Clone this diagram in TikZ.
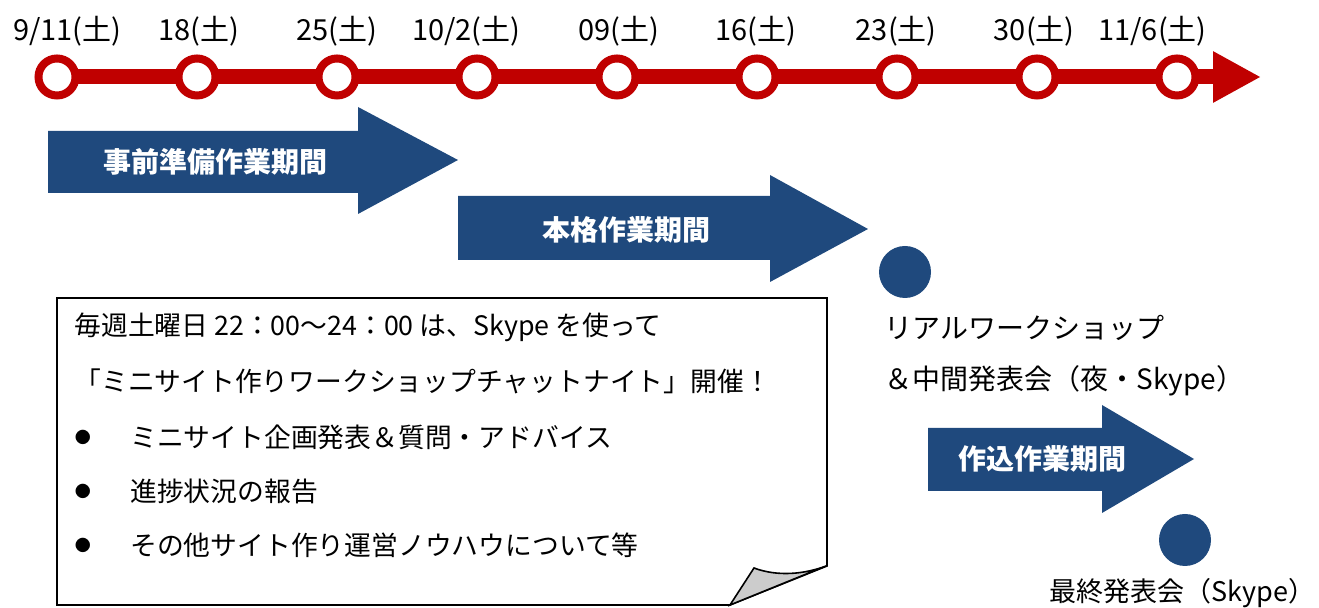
\documentclass[tikz,border=0pt]{standalone}
\usepackage{fontspec}
\setmainfont{Noto Sans CJK JP}
\usetikzlibrary{positioning,arrows.meta,calc}
\definecolor{tlred}{HTML}{C00000}
\definecolor{phaseblue}{HTML}{1F497D}

\begin{document}
\begin{tikzpicture}[
    x=0.5pt, y=-0.5pt,
    every node/.style={inner sep=0pt, font=\fontsize{13.4}{16}\selectfont},
    dot/.style={circle, draw=tlred, line width=4pt, fill=white, minimum size=18.5pt},
    datelbl/.style={anchor=east, font=\fontsize{14.5}{16}\selectfont},
    tline/.style={draw=tlred, line width=7.5pt, -{Triangle[length=24pt,width=24pt]}},
    phase/.style={fill=phaseblue},
    phasetxt/.style={text=white, font=\fontsize{14}{16}\selectfont\bfseries},
    milestone/.style={circle, fill=phaseblue, minimum size=26pt},
    sidetxt/.style={anchor=west, font=\fontsize{14}{17}\selectfont},
    notetxt/.style={anchor=west},
    bullet/.style={font=\fontsize{8}{10}\selectfont},
    note/.style={draw=black, line width=0.8pt, fill=white}
]
\useasboundingbox (0,0) rectangle (1319,608);

% timeline
\foreach \i in {0,...,8}
    \coordinate (d\i) at (57+140*\i,77);
\draw[tline] (d0) -- ($(d8)+(84,0)$);
\foreach \d/\r [count=\i from 0] in {{9/11}/65, 18/43, 25/41, {10/2}/44, 09/43, 16/40, 23/40, 30/38, {11/6}/30} {
    \node[dot] (date\i) at (d\i) {};
    \node[datelbl] (lbl\i) at ($(d\i)+(\r,-46)$) {\d(土)};
}

% phases
\fill[phase] (48,131) -- (358,131) -- (358,107) -- (458,160) -- (358,214) -- (358,193) -- (48,193) -- cycle;
\node[phasetxt] (prep) at (216,162) {事前準備作業期間};
\fill[phase] (458,196) -- (770,196) -- (770,175) -- (868,229) -- (770,282) -- (770,260) -- (458,260) -- cycle;
\node[phasetxt] (work) at (626,230) {本格作業期間};
\fill[phase] (928,428) -- (1102,428) -- (1102,405) -- (1194,459) -- (1102,513) -- (1102,491) -- (928,491) -- cycle;
\node[phasetxt] (finish) at (1042,459) {作込作業期間};

% milestones
\node[milestone] (rws) at (905,272) {};
\node[sidetxt] (rws1) at (884,328) {リアルワークショップ};
\node[sidetxt] (rws2) at (884,381) {＆中間発表会（夜・Skype）};
\node[milestone] (final) at (1185,540) {};
\node[sidetxt, font=\fontsize{13.5}{16}\selectfont] (finaltxt) at (1049,593) {最終発表会（Skype）};

% note
\draw[note] (57,298) -- (827,298) -- (827,566) -- (730,605) -- (57,605) -- cycle;
\filldraw[draw=black, line width=0.8pt, fill=black!20] (730,605) -- (754,568) .. controls (778,577) and (805,574) .. (826,566) -- cycle;
\node[notetxt] (n1) at (74,327) {毎週土曜日 22：00〜24：00 は、Skype を使って};
\node[notetxt] (n2) at (74,381) {「ミニサイト作りワークショップチャットナイト」開催！};
\foreach \t [count=\i] in {ミニサイト企画発表＆質問・アドバイス, 進捗状況の報告, その他サイト作り運営ノウハウについて等} {
    \node[bullet] (b\i) at (83,383+54*\i) {●};
    \node[notetxt] (item\i) at (130,383+54*\i) {\t};
}
\end{tikzpicture}
\end{document}
